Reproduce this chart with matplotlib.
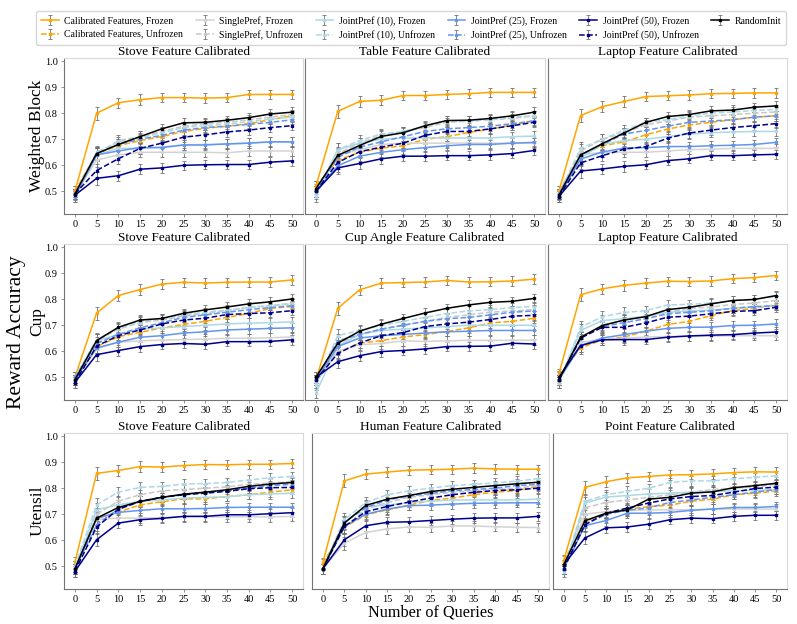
import matplotlib.pyplot as plt

plt.rcParams['font.family'] = ['Liberation Serif', 'DejaVu Serif']

queries = [0, 5, 10, 15, 20, 25, 30, 35, 40, 45, 50]

labels = ['Calibrated Features, Frozen', 'Calibrated Features, Unfrozen',
          'SinglePref, Frozen', 'SinglePref, Unfrozen',
          'JointPref (10), Frozen', 'JointPref (10), Unfrozen',
          'JointPref (25), Frozen', 'JointPref (25), Unfrozen',
          'JointPref (50), Frozen', 'JointPref (50), Unfrozen',
          'RandomInit']
colors = ['#ffa500', '#ffa500', '#d3d3d3', '#c8c8c8', '#add8e6', '#add8e6',
          '#6495ed', '#6495ed', '#00008b', '#00008b', '#000000']
styles = ['-', '--', '-', '--', '-', '--', '-', '--', '-', '--', '-']

# одна и та же погрешность для всех кривых
err = [0.02, 0.025, 0.02, 0.02, 0.018, 0.018, 0.018, 0.018, 0.018, 0.018, 0.018]

# строка 1: Weighted Block
stove_block = [
    [0.50, 0.80, 0.84, 0.852, 0.86, 0.86, 0.858, 0.86, 0.872, 0.872, 0.872],
    [0.50, 0.645, 0.675, 0.695, 0.71, 0.73, 0.742, 0.75, 0.76, 0.775, 0.79],
    [0.49, 0.62, 0.64, 0.65, 0.65, 0.65, 0.65, 0.648, 0.655, 0.655, 0.655],
    [0.49, 0.64, 0.695, 0.71, 0.73, 0.75, 0.76, 0.765, 0.775, 0.785, 0.795],
    [0.48, 0.64, 0.665, 0.665, 0.67, 0.678, 0.68, 0.682, 0.685, 0.69, 0.69],
    [0.49, 0.65, 0.69, 0.705, 0.725, 0.745, 0.752, 0.758, 0.768, 0.778, 0.785],
    [0.48, 0.64, 0.655, 0.668, 0.668, 0.678, 0.678, 0.682, 0.685, 0.69, 0.69],
    [0.49, 0.645, 0.68, 0.70, 0.715, 0.735, 0.745, 0.75, 0.757, 0.765, 0.775],
    [0.485, 0.55, 0.56, 0.585, 0.59, 0.60, 0.602, 0.603, 0.603, 0.612, 0.617],
    [0.49, 0.58, 0.625, 0.665, 0.685, 0.708, 0.717, 0.728, 0.735, 0.745, 0.752],
    [0.49, 0.645, 0.68, 0.71, 0.74, 0.763, 0.765, 0.773, 0.783, 0.797, 0.804],
]
table_block = [
    [0.52, 0.807, 0.845, 0.85, 0.868, 0.868, 0.872, 0.875, 0.88, 0.88, 0.88],
    [0.52, 0.62, 0.65, 0.666, 0.675, 0.70, 0.71, 0.726, 0.739, 0.755, 0.772],
    [0.50, 0.64, 0.66, 0.68, 0.685, 0.685, 0.685, 0.685, 0.685, 0.685, 0.685],
    [0.50, 0.645, 0.685, 0.715, 0.73, 0.745, 0.765, 0.77, 0.775, 0.78, 0.79],
    [0.49, 0.66, 0.685, 0.70, 0.705, 0.705, 0.705, 0.705, 0.705, 0.71, 0.712],
    [0.48, 0.66, 0.695, 0.72, 0.73, 0.75, 0.77, 0.77, 0.775, 0.785, 0.79],
    [0.50, 0.598, 0.635, 0.65, 0.66, 0.668, 0.675, 0.68, 0.68, 0.685, 0.688],
    [0.50, 0.63, 0.67, 0.69, 0.71, 0.73, 0.74, 0.745, 0.75, 0.76, 0.77],
    [0.50, 0.59, 0.607, 0.625, 0.635, 0.635, 0.637, 0.637, 0.64, 0.645, 0.657],
    [0.50, 0.611, 0.652, 0.67, 0.685, 0.715, 0.73, 0.73, 0.74, 0.752, 0.765],
    [0.51, 0.638, 0.676, 0.711, 0.725, 0.752, 0.772, 0.773, 0.78, 0.79, 0.804],
]
laptop_block = [
    [0.50, 0.791, 0.825, 0.845, 0.864, 0.867, 0.87, 0.875, 0.876, 0.878, 0.878],
    [0.50, 0.64, 0.675, 0.69, 0.717, 0.739, 0.755, 0.765, 0.775, 0.785, 0.79],
    [0.49, 0.64, 0.65, 0.65, 0.65, 0.655, 0.66, 0.662, 0.665, 0.665, 0.665],
    [0.49, 0.655, 0.70, 0.725, 0.755, 0.77, 0.785, 0.79, 0.795, 0.80, 0.805],
    [0.49, 0.63, 0.68, 0.695, 0.70, 0.71, 0.72, 0.725, 0.728, 0.73, 0.73],
    [0.49, 0.665, 0.70, 0.735, 0.765, 0.775, 0.79, 0.80, 0.805, 0.81, 0.815],
    [0.48, 0.624, 0.651, 0.666, 0.668, 0.672, 0.672, 0.675, 0.677, 0.68, 0.688],
    [0.49, 0.64, 0.68, 0.72, 0.734, 0.75, 0.765, 0.77, 0.775, 0.785, 0.79],
    [0.48, 0.578, 0.586, 0.596, 0.602, 0.618, 0.625, 0.637, 0.637, 0.64, 0.642],
    [0.48, 0.609, 0.637, 0.662, 0.672, 0.704, 0.724, 0.735, 0.745, 0.752, 0.76],
    [0.485, 0.64, 0.683, 0.724, 0.765, 0.787, 0.795, 0.809, 0.812, 0.823, 0.828],
]

# строка 2: Cup
stove_cup = [
    [0.50, 0.747, 0.814, 0.837, 0.858, 0.865, 0.862, 0.865, 0.866, 0.866, 0.874],
    [0.49, 0.618, 0.656, 0.673, 0.69, 0.703, 0.715, 0.73, 0.745, 0.765, 0.772],
    [0.49, 0.61, 0.635, 0.64, 0.643, 0.645, 0.647, 0.65, 0.65, 0.652, 0.655],
    [0.49, 0.64, 0.685, 0.71, 0.72, 0.735, 0.745, 0.755, 0.77, 0.775, 0.785],
    [0.50, 0.64, 0.665, 0.685, 0.69, 0.695, 0.70, 0.705, 0.708, 0.71, 0.713],
    [0.50, 0.645, 0.69, 0.715, 0.725, 0.74, 0.75, 0.758, 0.768, 0.775, 0.782],
    [0.49, 0.613, 0.635, 0.654, 0.66, 0.67, 0.675, 0.682, 0.685, 0.688, 0.69],
    [0.50, 0.63, 0.665, 0.69, 0.71, 0.73, 0.74, 0.75, 0.76, 0.768, 0.775],
    [0.48, 0.587, 0.603, 0.618, 0.626, 0.63, 0.627, 0.637, 0.637, 0.638, 0.644],
    [0.48, 0.62, 0.66, 0.682, 0.705, 0.72, 0.727, 0.741, 0.745, 0.748, 0.756],
    [0.49, 0.641, 0.692, 0.72, 0.726, 0.746, 0.759, 0.77, 0.782, 0.79, 0.801],
]
cupangle_cup = [
    [0.49, 0.765, 0.836, 0.862, 0.864, 0.866, 0.872, 0.866, 0.867, 0.87, 0.877],
    [0.50, 0.596, 0.631, 0.641, 0.655, 0.664, 0.676, 0.69, 0.709, 0.715, 0.727],
    [0.48, 0.60, 0.625, 0.63, 0.64, 0.638, 0.64, 0.642, 0.642, 0.642, 0.643],
    [0.49, 0.63, 0.665, 0.685, 0.70, 0.715, 0.73, 0.74, 0.75, 0.755, 0.76],
    [0.44, 0.62, 0.665, 0.68, 0.685, 0.69, 0.695, 0.70, 0.70, 0.70, 0.70],
    [0.47, 0.66, 0.68, 0.70, 0.715, 0.73, 0.745, 0.755, 0.76, 0.768, 0.772],
    [0.49, 0.618, 0.651, 0.66, 0.665, 0.67, 0.675, 0.677, 0.68, 0.68, 0.68],
    [0.49, 0.64, 0.665, 0.685, 0.70, 0.715, 0.725, 0.73, 0.74, 0.75, 0.755],
    [0.50, 0.56, 0.583, 0.599, 0.603, 0.609, 0.618, 0.619, 0.62, 0.631, 0.628],
    [0.49, 0.592, 0.632, 0.66, 0.672, 0.695, 0.705, 0.712, 0.722, 0.735, 0.738],
    [0.50, 0.631, 0.677, 0.704, 0.726, 0.747, 0.765, 0.778, 0.788, 0.792, 0.803],
]
laptop_cup = [
    [0.513, 0.817, 0.84, 0.853, 0.862, 0.869, 0.868, 0.87, 0.879, 0.883, 0.891],
    [0.505, 0.613, 0.644, 0.655, 0.677, 0.703, 0.715, 0.737, 0.756, 0.765, 0.779],
    [0.49, 0.635, 0.645, 0.65, 0.655, 0.657, 0.657, 0.658, 0.66, 0.66, 0.66],
    [0.49, 0.65, 0.70, 0.72, 0.735, 0.75, 0.765, 0.77, 0.78, 0.785, 0.795],
    [0.48, 0.68, 0.718, 0.725, 0.735, 0.75, 0.755, 0.758, 0.765, 0.77, 0.775],
    [0.48, 0.692, 0.733, 0.749, 0.756, 0.778, 0.78, 0.785, 0.795, 0.80, 0.81],
    [0.49, 0.622, 0.651, 0.664, 0.677, 0.688, 0.692, 0.693, 0.699, 0.70, 0.705],
    [0.49, 0.65, 0.695, 0.71, 0.725, 0.744, 0.75, 0.755, 0.765, 0.772, 0.775],
    [0.50, 0.622, 0.644, 0.645, 0.645, 0.654, 0.659, 0.662, 0.664, 0.67, 0.674],
    [0.49, 0.651, 0.692, 0.692, 0.709, 0.731, 0.735, 0.744, 0.753, 0.756, 0.769],
    [0.49, 0.654, 0.699, 0.72, 0.733, 0.76, 0.769, 0.782, 0.795, 0.799, 0.814],
]

# строка 3: Utensil
stove_utensil = [
    [0.515, 0.857, 0.868, 0.883, 0.881, 0.887, 0.891, 0.89, 0.892, 0.892, 0.895],
    [0.50, 0.683, 0.708, 0.736, 0.748, 0.759, 0.759, 0.768, 0.775, 0.785, 0.794],
    [0.49, 0.68, 0.685, 0.685, 0.688, 0.69, 0.69, 0.69, 0.69, 0.69, 0.692],
    [0.50, 0.70, 0.75, 0.775, 0.79, 0.795, 0.80, 0.805, 0.815, 0.82, 0.825],
    [0.49, 0.717, 0.736, 0.75, 0.755, 0.762, 0.765, 0.767, 0.775, 0.778, 0.781],
    [0.50, 0.736, 0.785, 0.803, 0.807, 0.816, 0.818, 0.822, 0.832, 0.84, 0.845],
    [0.49, 0.685, 0.707, 0.715, 0.721, 0.721, 0.722, 0.726, 0.727, 0.727, 0.727],
    [0.49, 0.66, 0.72, 0.75, 0.765, 0.775, 0.785, 0.79, 0.80, 0.81, 0.815],
    [0.48, 0.602, 0.666, 0.679, 0.684, 0.692, 0.692, 0.698, 0.698, 0.702, 0.706],
    [0.48, 0.651, 0.719, 0.749, 0.765, 0.775, 0.781, 0.788, 0.798, 0.802, 0.803],
    [0.49, 0.685, 0.726, 0.749, 0.765, 0.777, 0.785, 0.794, 0.807, 0.816, 0.822],
]
human_utensil = [
    [0.513, 0.828, 0.854, 0.862, 0.869, 0.871, 0.873, 0.877, 0.874, 0.873, 0.873],
    [0.51, 0.65, 0.698, 0.717, 0.735, 0.753, 0.762, 0.775, 0.785, 0.79, 0.807],
    [0.49, 0.589, 0.63, 0.644, 0.651, 0.65, 0.655, 0.655, 0.652, 0.65, 0.649],
    [0.49, 0.65, 0.72, 0.745, 0.765, 0.775, 0.785, 0.79, 0.795, 0.80, 0.81],
    [0.49, 0.67, 0.73, 0.735, 0.745, 0.75, 0.755, 0.755, 0.755, 0.755, 0.758],
    [0.49, 0.68, 0.745, 0.775, 0.79, 0.80, 0.81, 0.815, 0.82, 0.827, 0.837],
    [0.49, 0.653, 0.70, 0.72, 0.733, 0.735, 0.739, 0.742, 0.743, 0.744, 0.744],
    [0.49, 0.67, 0.725, 0.755, 0.77, 0.78, 0.79, 0.795, 0.80, 0.81, 0.815],
    [0.49, 0.602, 0.656, 0.669, 0.671, 0.676, 0.681, 0.685, 0.686, 0.686, 0.692],
    [0.49, 0.653, 0.71, 0.73, 0.747, 0.762, 0.775, 0.784, 0.791, 0.794, 0.80],
    [0.49, 0.666, 0.734, 0.758, 0.772, 0.787, 0.796, 0.803, 0.81, 0.817, 0.823],
]
point_utensil = [
    [0.522, 0.803, 0.825, 0.84, 0.845, 0.851, 0.852, 0.855, 0.86, 0.863, 0.862],
    [0.52, 0.673, 0.704, 0.72, 0.729, 0.735, 0.75, 0.758, 0.775, 0.781, 0.789],
    [0.49, 0.70, 0.71, 0.715, 0.717, 0.717, 0.717, 0.72, 0.72, 0.72, 0.72],
    [0.49, 0.725, 0.745, 0.755, 0.765, 0.775, 0.785, 0.795, 0.80, 0.805, 0.815],
    [0.48, 0.743, 0.766, 0.772, 0.778, 0.781, 0.785, 0.788, 0.79, 0.792, 0.794],
    [0.49, 0.749, 0.775, 0.788, 0.80, 0.822, 0.828, 0.828, 0.836, 0.842, 0.848],
    [0.49, 0.656, 0.676, 0.704, 0.704, 0.707, 0.715, 0.72, 0.726, 0.726, 0.73],
    [0.49, 0.66, 0.70, 0.715, 0.725, 0.745, 0.755, 0.765, 0.775, 0.785, 0.795],
    [0.506, 0.609, 0.648, 0.651, 0.662, 0.679, 0.685, 0.683, 0.692, 0.696, 0.696],
    [0.49, 0.66, 0.704, 0.724, 0.743, 0.759, 0.768, 0.772, 0.785, 0.799, 0.804],
    [0.506, 0.675, 0.704, 0.717, 0.758, 0.765, 0.781, 0.786, 0.802, 0.81, 0.819],
]

panels = [
    [stove_block, table_block, laptop_block],
    [stove_cup, cupangle_cup, laptop_cup],
    [stove_utensil, human_utensil, point_utensil],
]
titles = [
    ['Stove Feature Calibrated', 'Table Feature Calibrated', 'Laptop Feature Calibrated'],
    ['Stove Feature Calibrated', 'Cup Angle Feature Calibrated', 'Laptop Feature Calibrated'],
    ['Stove Feature Calibrated', 'Human Feature Calibrated', 'Point Feature Calibrated'],
]
row_names = ['Weighted Block', 'Cup', 'Utensil']

W, H = 797, 624
fig = plt.figure(figsize=(W / 100, H / 100), dpi=100)


def box(x0, x1, y0, y1):
    # пиксели картинки -> доли фигуры
    return [x0 / W, 1 - y1 / H, (x1 - x0) / W, (y1 - y0) / H]


col_px = [
    [(64, 303), (305, 545), (548, 787)],
    [(64, 303), (305, 545), (548, 787)],
    [(64, 303), (312, 549), (553, 787)],
]
row_px = [(58, 214), (244, 400), (433, 589)]

handles = None
for r in range(3):
    for c in range(3):
        x0, x1 = col_px[r][c]
        y0, y1 = row_px[r]
        ax = fig.add_axes(box(x0, x1, y0, y1))
        hs = []
        for i, vals in enumerate(panels[r][c]):
            h = ax.errorbar(queries, vals, yerr=err, color=colors[i], ls=styles[i],
                            lw=1.1, marker='s', ms=1.8, ecolor='0.45',
                            elinewidth=0.6, capsize=1.3, capthick=0.6)
            hs.append(h)
        if handles is None:
            handles = hs
        ax.set_xlim(-2.5, 52.5)
        ax.set_ylim(0.413, 1.012)
        ax.set_xticks(queries)
        ax.set_yticks([0.5, 0.6, 0.7, 0.8, 0.9, 1.0])
        ax.tick_params(labelsize=7.5, length=2.5, width=0.6, color='0.5', pad=2)
        if c > 0:
            ax.tick_params(left=False, labelleft=False)
        else:
            ax.set_ylabel(row_names[r], fontsize=12.5, labelpad=-0.5)
        for s in ['top', 'right']:
            ax.spines[s].set_color('0.85')
        for s in ['left', 'bottom']:
            ax.spines[s].set_color('0.45')
        for s in ax.spines.values():
            s.set_linewidth(0.8)
        ax.set_title(titles[r][c], fontsize=9.5, pad=2)

fig.text(0.021, 0.467, 'Reward Accuracy', rotation=90, fontsize=15.5,
         ha='center', va='center')
fig.text(0.54, 0.019, 'Number of Queries', fontsize=11.7, ha='center', va='center')

fig.legend(handles, labels, loc='upper center', bbox_to_anchor=(0.516, 0.99),
           ncol=6, fontsize=7.0, frameon=True, edgecolor='0.8', fancybox=True,
           handlelength=1.8, handletextpad=0.6, columnspacing=1.3,
           borderpad=0.5, labelspacing=0.45)

plt.savefig('out.png', dpi=100)
